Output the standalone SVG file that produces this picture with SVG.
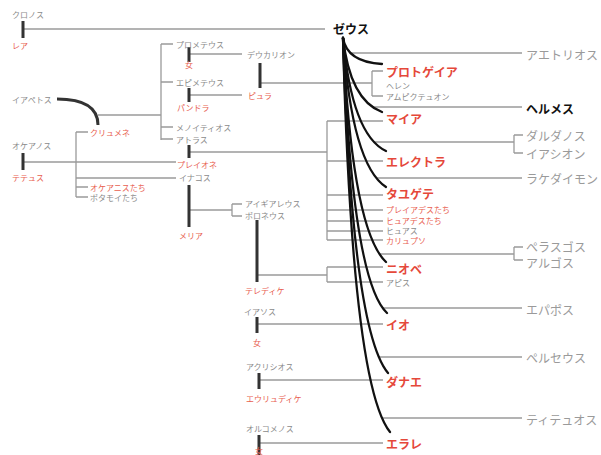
<svg xmlns="http://www.w3.org/2000/svg" width="601" height="455" viewBox="0 0 601 455">
<style>
text{font-family:"Noto Sans CJK JP","Noto Sans",sans-serif;dominant-baseline:central}
.s{font-size:8px;fill:#8a8a8a}
.sr{font-size:8px;fill:#e8604f}
.c{font-size:12px;font-weight:bold;fill:#e5483a}
.g{font-size:12px;fill:#9a9a9a}
.z{font-size:12px;font-weight:bold;fill:#111}
.l{stroke:#9a9a9a;stroke-width:1.3;fill:none}
.b{stroke:#333;stroke-width:3;fill:none}
.zc{stroke:#111;stroke-width:2.3;fill:none;stroke-linecap:round}
</style>
<rect width="601" height="455" fill="#fff"/>
<g id="connectors">
<g class="l">
<path d="M24,29H325"/>
<path d="M98,115H161M161,44V140M161,44H173M161,82H173M161,127H173M161,139H173"/>
<path d="M189,54H242M189,95H242"/>
<path d="M260,83H372M372,71V96M372,71H383M372,96H383"/>
<path d="M24,162H176M76,132V197M76,132H88M76,178H176M76,187H88M76,197H88"/>
<path d="M189,152H327M327,121V240M327,121H383M327,161H383M327,195H383M327,210H383M327,221H383M327,231H383M327,240H383"/>
<path d="M189,210H232M232,204V216M232,204H242M232,216H242"/>
<path d="M257,275H327M327,267V282M327,267H383M327,282H383"/>
<path d="M257,324H383M259,380H383M259,443H383"/>
<path d="M350,53H522M372,107H522M374,142H514M514,135V153M514,135H523M514,153H523M376,178H522M380,254H514M514,247V260M514,247H523M514,260H523M383,308H522M379,357H522M382,418H522"/>
</g>
<g class="b">
<path d="M23,21V38M23,153V170M189,47V62M189,88V102M260,63V88M189,145V158M189,185V227M257,220V282M257,317V333M259,373V389M259,435V455"/>
</g>
<path class="b" d="M57,99C82,99 98,106 98,125" stroke-width="3.2" stroke="#111"/>
<g class="zc">
<path d="M343,38Q347,62 382,64"/>
<path d="M343,38Q350,100 382,112"/>
<path d="M343,38Q352,135 386,151"/>
<path d="M343,38Q352,165 386,187"/>
<path d="M343,38Q352,230 386,262"/>
<path d="M343,38Q352,280 387,313"/>
<path d="M343,38Q352,330 388,373"/>
<path d="M343,38Q352,385 390,432"/>
</g>
</g>
<g id="kronos"><text class="s" x="12" y="14">クロノス</text></g>
<g id="rhea"><text class="sr" x="12" y="45">レア</text></g>
<g id="iapetos"><text class="s" x="12" y="99">イアペトス</text></g>
<g id="okeanos"><text class="s" x="12" y="145">オケアノス</text></g>
<g id="tethys"><text class="sr" x="12" y="177">テテュス</text></g>
<g id="klymene"><text class="sr" x="90" y="132">クリュメネ</text></g>
<g id="okeanides"><text class="sr" x="90" y="187">オケアニスたち</text></g>
<g id="potamoi"><text class="s" x="90" y="197">ポタモイたち</text></g>
<g id="prometheus"><text class="s" x="176" y="44">プロメテウス</text></g>
<g id="woman1"><text class="sr" x="189" y="64" text-anchor="middle">女</text></g>
<g id="epimetheus"><text class="s" x="176" y="82">エピメテウス</text></g>
<g id="pandora"><text class="sr" x="177" y="107">パンドラ</text></g>
<g id="menoitios"><text class="s" x="176" y="127">メノイティオス</text></g>
<g id="atlas"><text class="s" x="176" y="139">アトラス</text></g>
<g id="pleione"><text class="sr" x="177" y="164">プレイオネ</text></g>
<g id="inachos"><text class="s" x="179" y="177">イナコス</text></g>
<g id="melia"><text class="sr" x="179" y="235">メリア</text></g>
<g id="deukalion"><text class="s" x="247" y="54">デウカリオン</text></g>
<g id="pyrrha"><text class="sr" x="248" y="95">ピュラ</text></g>
<g id="aigialeus"><text class="s" x="245" y="203">アイギアレウス</text></g>
<g id="phoroneus"><text class="s" x="245" y="215">ポロネウス</text></g>
<g id="teledike"><text class="sr" x="245" y="290">テレディケ</text></g>
<g id="iasos"><text class="s" x="244" y="311">イアソス</text></g>
<g id="woman2"><text class="sr" x="257" y="342" text-anchor="middle">女</text></g>
<g id="akrisios"><text class="s" x="246" y="366">アクリシオス</text></g>
<g id="eurydike"><text class="sr" x="246" y="398">エウリュディケ</text></g>
<g id="orchomenos"><text class="s" x="246" y="428">オルコメノス</text></g>
<g id="woman3"><text class="sr" x="259" y="450" text-anchor="middle">女</text></g>
<g id="zeus"><text class="z" x="333" y="28">ゼウス</text></g>
<g id="protogeneia"><text class="c" x="386" y="71">プロトゲイア</text></g>
<g id="hellen"><text class="s" x="386" y="85">ヘレン</text></g>
<g id="amphiktyon"><text class="s" x="386" y="96">アムピクテュオン</text></g>
<g id="maia"><text class="c" x="386" y="118">マイア</text></g>
<g id="elektra"><text class="c" x="386" y="161">エレクトラ</text></g>
<g id="taygete"><text class="c" x="386" y="193">タユゲテ</text></g>
<g id="pleiades"><text class="sr" x="386" y="209">プレイアデスたち</text></g>
<g id="hyades"><text class="sr" x="386" y="220">ヒュアデスたち</text></g>
<g id="hyas"><text class="s" x="386" y="230">ヒュアス</text></g>
<g id="kalypso"><text class="sr" x="386" y="240">カリュプソ</text></g>
<g id="niobe"><text class="c" x="386" y="268">ニオベ</text></g>
<g id="apis"><text class="s" x="386" y="282">アピス</text></g>
<g id="io"><text class="c" x="386" y="324">イオ</text></g>
<g id="danae"><text class="c" x="386" y="381">ダナエ</text></g>
<g id="elara"><text class="c" x="386" y="443">エラレ</text></g>
<g id="aethlios"><text class="g" x="526" y="54">アエトリオス</text></g>
<g id="hermes"><text class="z" x="526" y="108">ヘルメス</text></g>
<g id="dardanos"><text class="g" x="526" y="135">ダルダノス</text></g>
<g id="iasion"><text class="g" x="526" y="153">イアシオン</text></g>
<g id="lakedaimon"><text class="g" x="526" y="178">ラケダイモン</text></g>
<g id="pelasgos"><text class="g" x="526" y="246">ペラスゴス</text></g>
<g id="argos"><text class="g" x="526" y="262">アルゴス</text></g>
<g id="epaphos"><text class="g" x="526" y="309">エパポス</text></g>
<g id="perseus"><text class="g" x="526" y="357">ペルセウス</text></g>
<g id="tityos"><text class="g" x="526" y="419">ティテュオス</text></g>
</svg>
